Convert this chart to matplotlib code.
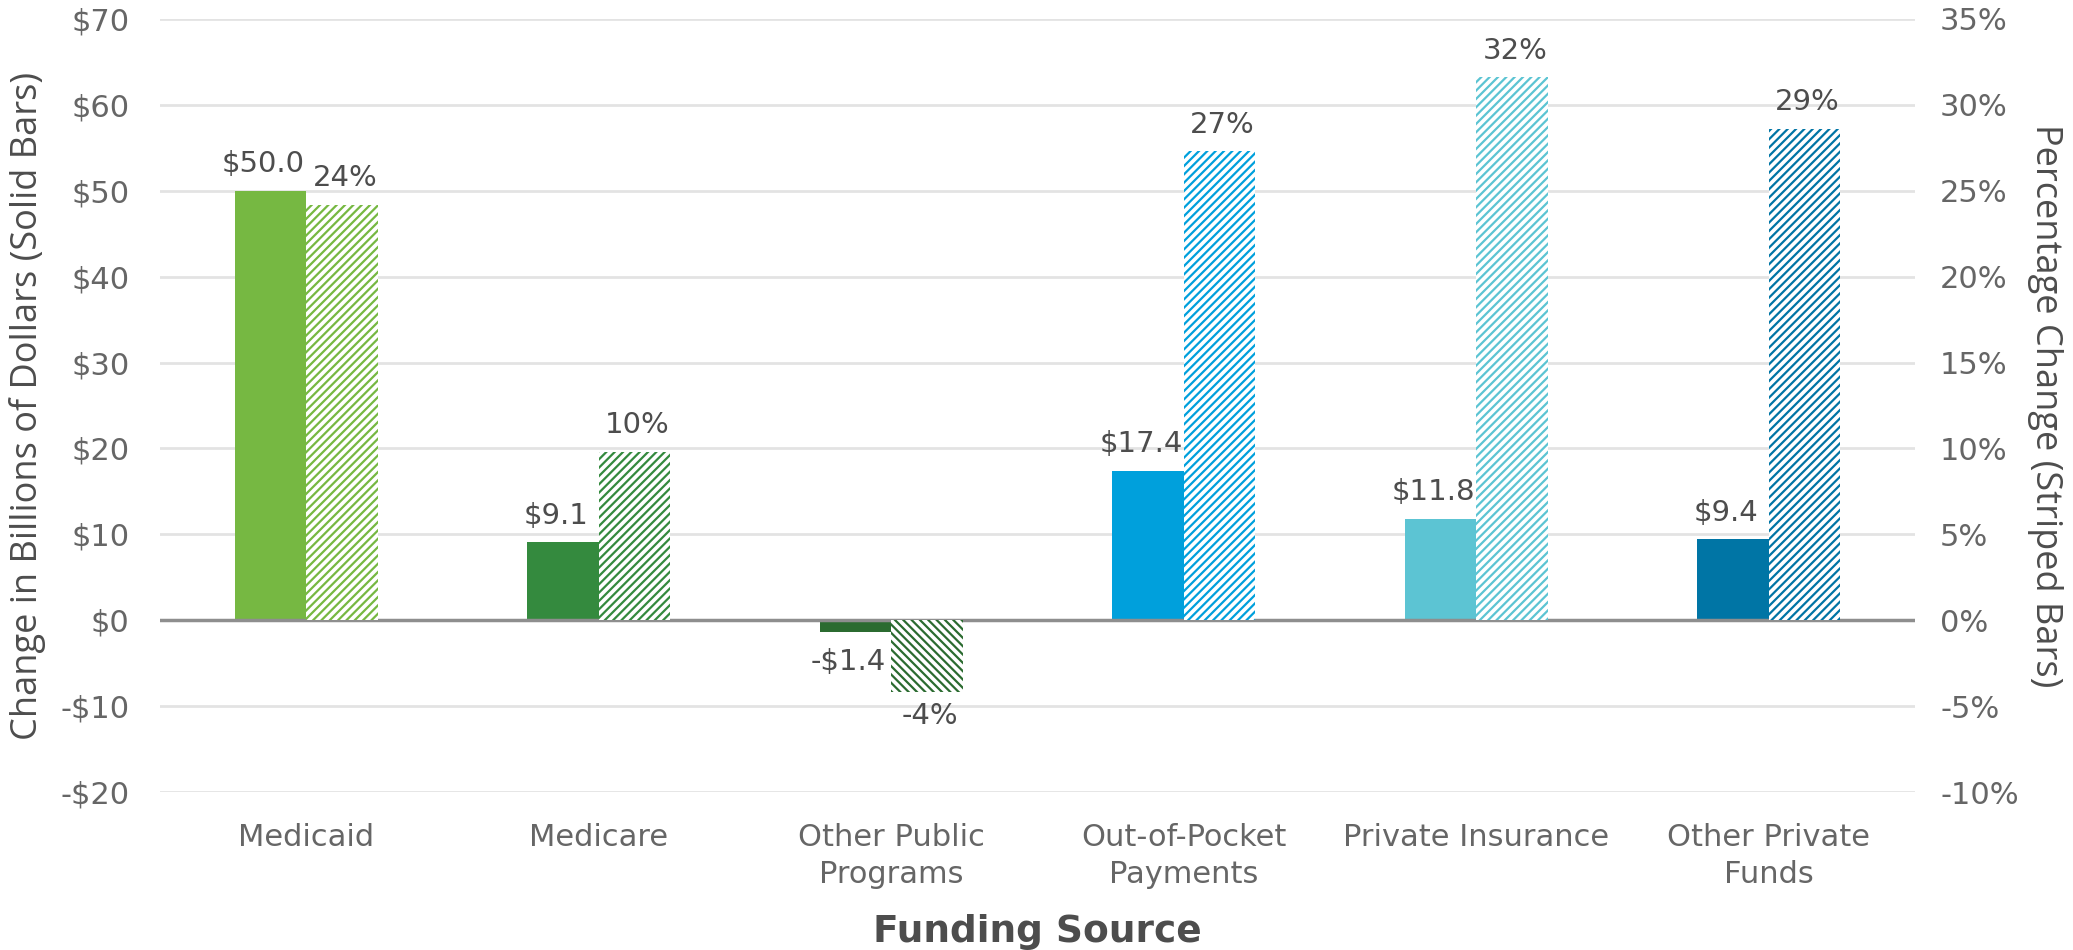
import matplotlib
matplotlib.use("Agg")
import matplotlib.pyplot as plt
import numpy as np

# Data
sources = ["Medicaid", "Medicare", "Other Public\nPrograms",
           "Out-of-Pocket\nPayments", "Private Insurance", "Other Private\nFunds"]
change_billions = [50.0, 9.1, -1.4, 17.4, 11.8, 9.4]
change_pct = [24.2, 9.8, -4.2, 27.3, 31.6, 28.6]
colors = ["#76B842", "#348A3E", "#2B6B30", "#00A0DC", "#5CC4D3", "#0075A5"]

plt.rcParams["font.family"] = ["DejaVu Sans"]
plt.rcParams["hatch.linewidth"] = 1.6

fig = plt.figure(figsize=(20.73, 9.5), dpi=100)
ax = fig.add_axes([0.0772, 0.1663, 0.8466, 0.8137])
ax2 = ax.twinx()

x = np.arange(len(sources))
w = 0.245

ax.bar(x - w / 2, change_billions, width=w, color=colors, zorder=3)
for i in range(len(sources)):
    hatch = "////" if change_pct[i] >= 0 else "\\\\\\\\"
    ax2.bar(x[i] + w / 2, change_pct[i], width=w, facecolor="white",
            edgecolor=colors[i], hatch=hatch, linewidth=0, zorder=3)

ax.set_xlim(-0.5, 5.5)
ax.set_ylim(-20, 70)
ax2.set_ylim(-10, 35)
ax.set_yticks(range(-20, 71, 10))
ax.set_yticklabels([("-$%d" % -v) if v < 0 else ("$%d" % v) for v in range(-20, 71, 10)])
ax2.set_yticks(range(-10, 36, 5))
ax2.set_yticklabels(["%d%%" % v for v in range(-10, 36, 5)])

ax.grid(axis="y", color="#E3E3E3", linewidth=2, zorder=0)
ax.axhline(0, color="#8E8E8E", linewidth=2.5, zorder=4)
for a in (ax, ax2):
    for s in a.spines.values():
        s.set_visible(False)
    a.tick_params(length=0, labelsize=22, labelcolor="#666666")
ax.tick_params(axis="y", pad=22)
ax2.tick_params(axis="y", pad=18)
ax.tick_params(axis="x", pad=22)

ax.set_xticks(x)
ax.set_xticklabels(sources, linespacing=1.38)

ax.set_xlabel("Funding Source", fontsize=27, fontweight="bold", color="#4D4D4D", labelpad=18)
ax.set_ylabel("Change in Billions of Dollars (Solid Bars)", fontsize=26, color="#4D4D4D",
              family="Open Sans", labelpad=10)
ax2.set_ylabel("Percentage Change (Striped Bars)", fontsize=26, color="#4D4D4D",
               family="Open Sans", rotation=270, labelpad=32)

# Value labels
for i in range(len(sources)):
    v = change_billions[i]
    lab = ("-$%.1f" % -v) if v < 0 else ("$%.1f" % v)
    ax.annotate(lab, (x[i] - w / 2, v), xytext=(-5, 9 if v >= 0 else -11),
                textcoords="offset points", ha="center",
                va="bottom" if v >= 0 else "top", fontsize=21, color="#4D4D4D", zorder=5)
    p = change_pct[i]
    ax2.annotate("%.0f%%" % p, (x[i] + w / 2, p), xytext=(2, 9 if p >= 0 else -7),
                 textcoords="offset points", ha="center",
                 va="bottom" if p >= 0 else "top", fontsize=21, color="#4D4D4D", zorder=5)

fig.savefig("out.png", dpi=100)
